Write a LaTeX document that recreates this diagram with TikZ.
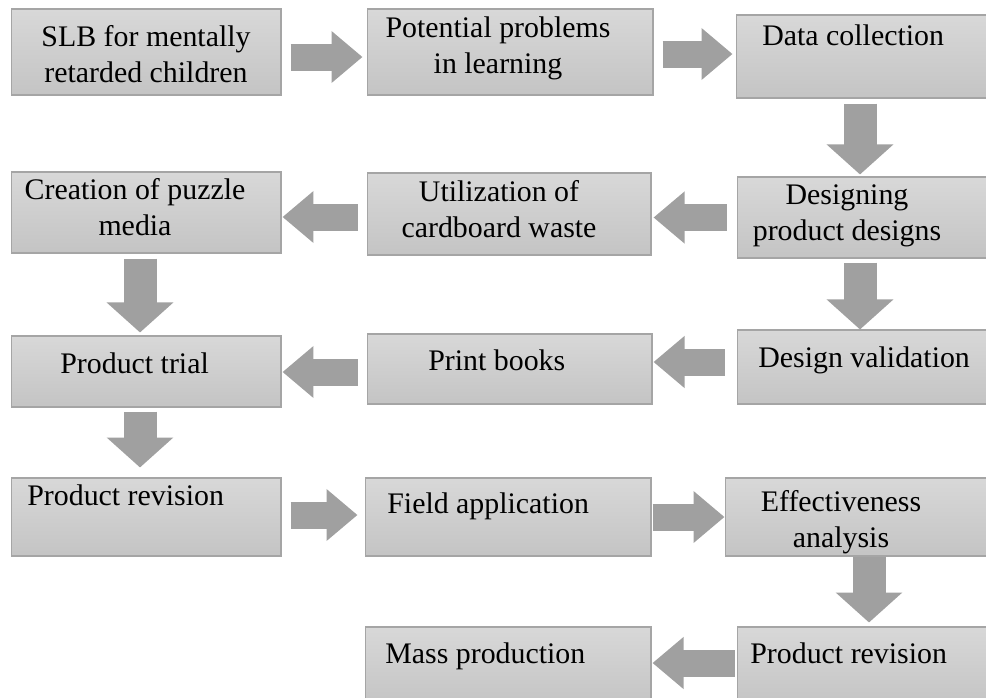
\documentclass[tikz,border=0pt]{standalone}
\usepackage{fontspec}
\setmainfont{Liberation Serif}
\usepackage{xcolor}
\usetikzlibrary{positioning,calc,arrows.meta}
\definecolor{boxtop}{RGB}{216,216,216}
\definecolor{boxbot}{RGB}{196,196,196}
\definecolor{boxline}{RGB}{165,165,165}
\definecolor{arrowgray}{RGB}{160,160,160}
\tikzset{
    stepbox/.style={rectangle, draw=boxline, top color=boxtop, bottom color=boxbot, line width=0.6pt, inner sep=0pt},
    steptext/.style={font=\fontsize{17}{20}\selectfont, inner sep=0pt, align=center},
    harrow/.style={draw=arrowgray, line width=0.54cm, -{Triangle[length=0.62cm, width=1.0cm]}},
    varrow/.style={draw=arrowgray, line width=0.66cm, -{Triangle[length=0.6cm, width=1.3cm]}}
}

\begin{document}
\begin{tikzpicture}[x=0.02cm, y=-0.02cm]

        \useasboundingbox (0,0) rectangle (986,697);

        % --- HANG 1 ---
        \node[stepbox, minimum width=5.4cm, minimum height=1.72cm] (slb) at (146,52) {};
        \node[stepbox, minimum width=5.72cm, minimum height=1.72cm] (pot) at (510,52) {};
        \node[stepbox, overlay, minimum width=5.12cm, minimum height=1.66cm] (dat) at (864,56.5) {};

        % --- HANG 2 ---
        \node[stepbox, minimum width=5.4cm, minimum height=1.62cm] (cre) at (146,212.5) {};
        \node[stepbox, minimum width=5.68cm, minimum height=1.64cm] (uti) at (509,214) {};
        \node[stepbox, overlay, minimum width=5.1cm, minimum height=1.62cm] (des) at (864.5,217.5) {};

        % --- HANG 3 ---
        \node[stepbox, minimum width=5.4cm, minimum height=1.42cm] (tri) at (146,371.5) {};
        \node[stepbox, minimum width=5.7cm, minimum height=1.4cm] (pri) at (509.5,369) {};
        \node[stepbox, overlay, minimum width=5.1cm, minimum height=1.48cm] (val) at (864.5,367) {};

        % --- HANG 4 ---
        \node[stepbox, minimum width=5.4cm, minimum height=1.56cm] (rev) at (146,517) {};
        \node[stepbox, minimum width=5.72cm, minimum height=1.56cm] (fie) at (508,517) {};
        \node[stepbox, overlay, minimum width=5.34cm, minimum height=1.56cm] (eff) at (858.5,517) {};

        % --- HANG 5 (cat o mep duoi) ---
        \node[stepbox, overlay, minimum width=5.72cm, minimum height=1.56cm] (mas) at (508,666) {};
        \node[stepbox, overlay, minimum width=5.1cm, minimum height=1.56cm] (revb) at (864.5,666) {};

        % --- CHU (base = dong cuoi) ---
        \node[steptext, anchor=base] (t-slb) at (146,82) {SLB for mentally\\retarded children};
        \node[steptext, anchor=base] (t-pot) at (498,73) {Potential problems\\in learning};
        \node[steptext, anchor=base west] (t-dat) at (762,45) {Data collection};
        \node[steptext, anchor=base] (t-cre) at (135,235) {Creation of puzzle\\media};
        \node[steptext, anchor=base] (t-uti) at (499,237) {Utilization of\\cardboard waste};
        \node[steptext, anchor=base] (t-des) at (847,240) {Designing\\product designs};
        \node[steptext, anchor=base west] (t-tri) at (60,373) {Product trial};
        \node[steptext, anchor=base west] (t-pri) at (428,370) {Print books};
        \node[steptext, anchor=base west] (t-val) at (758,367) {Design validation};
        \node[steptext, anchor=base west] (t-rev) at (27,505) {Product revision};
        \node[steptext, anchor=base west] (t-fie) at (387,513) {Field application};
        \node[steptext, anchor=base] (t-eff) at (841,547) {Effectiveness\\analysis};
        \node[steptext, anchor=base west] (t-mas) at (385,663) {Mass production};
        \node[steptext, anchor=base west] (t-revb) at (750,663) {Product revision};

        % --- MUI TEN ---
        \draw[harrow, shorten <=0.18cm, shorten >=0.08cm] ([yshift=-0.1cm]slb.east) -- ([yshift=-0.1cm]slb.east -| pot.west);
        \draw[harrow, shorten <=0.18cm, shorten >=0.06cm] ([yshift=-0.04cm]pot.east) -- ([yshift=-0.04cm]pot.east -| dat.west);
        \draw[varrow, shorten <=0.1cm, shorten >=0.04cm] ([xshift=-0.08cm]dat.south) -- ([xshift=-0.08cm]dat.south |- des.north);
        \draw[harrow, shorten <=0.2cm, shorten >=0.04cm] (des.west) -- (des.west -| uti.east);
        \draw[harrow, shorten <=0.18cm, shorten >=0.02cm] ([yshift=-0.06cm]uti.west) -- ([yshift=-0.06cm]uti.west -| cre.east);
        \draw[varrow, shorten <=0.1cm, shorten >=0.06cm] ([xshift=-0.12cm]cre.south) -- ([xshift=-0.12cm]cre.south |- tri.north);
        \draw[varrow, shorten <=0.08cm] ([xshift=-0.09cm]des.south) -- ([xshift=-0.09cm]des.south |- val.north);
        \draw[harrow, shorten <=0.24cm, shorten >=0.02cm] ([yshift=0.1cm]val.west) -- ([yshift=0.1cm]val.west -| pri.east);
        \draw[harrow, shorten <=0.18cm, shorten >=0.02cm] ([yshift=-0.06cm]pri.west) -- ([yshift=-0.06cm]pri.west -| tri.east);
        \draw[varrow, shorten <=0.08cm, shorten >=0.2cm] ([xshift=-0.12cm]tri.south) -- ([xshift=-0.12cm]tri.south |- rev.north);
        \draw[harrow, shorten <=0.18cm, shorten >=0.14cm] ([yshift=0.04cm]rev.east) -- ([yshift=0.04cm]rev.east -| fie.west);
        \draw[harrow, shorten <=0.02cm] (fie.east) -- (fie.east -| eff.west);
        \draw[varrow, shorten >=0.08cm] ([xshift=0.21cm]eff.south) -- ([xshift=0.21cm]eff.south |- revb.north);
        \draw[harrow, shorten <=0.04cm, shorten >=0.02cm] ([yshift=0.06cm]revb.west) -- ([yshift=0.06cm]revb.west -| mas.east);

\end{tikzpicture}
\end{document}
